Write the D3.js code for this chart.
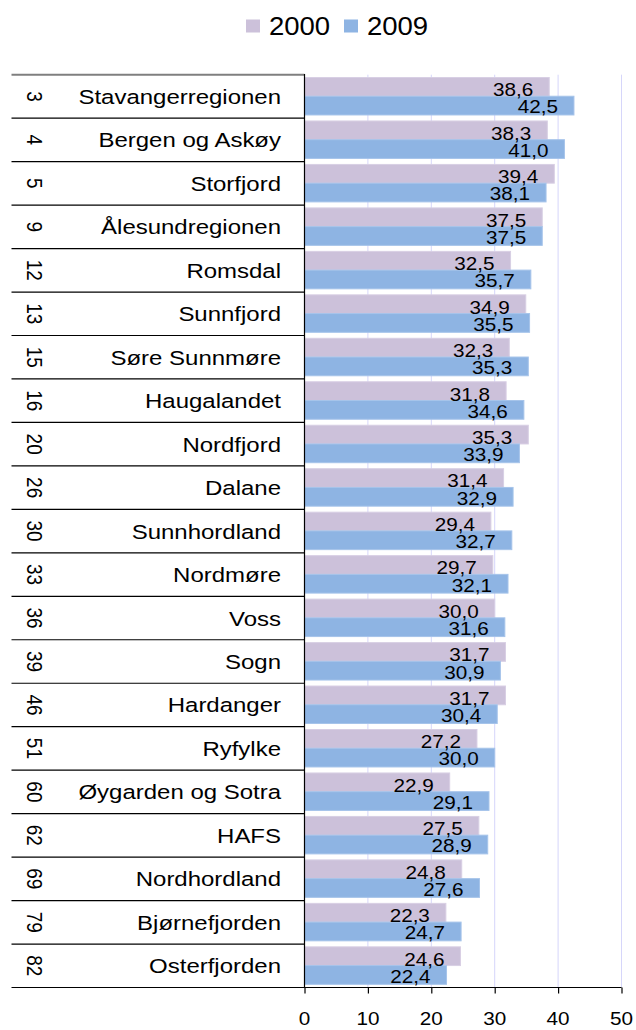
<!DOCTYPE html>
<html>
<head>
<meta charset="utf-8">
<script src="https://cdn.jsdelivr.net/npm/d3@7"></script>
<style>
  html, body { margin: 0; padding: 0; background: #fff; }
  svg { display: block; font-family: "Liberation Sans", Arial, sans-serif; }
</style>
</head>
<body>
<svg id="chart" width="636" height="1030"></svg>
<script>
// Regions, their rank and the share in 2000 and 2009
const ranks = [3, 4, 5, 9, 12, 13, 15, 16, 20, 26, 30, 33, 36, 39, 46, 51, 60, 62, 69, 79, 82];
const regions = ["Stavangerregionen", "Bergen og Askøy", "Storfjord", "Ålesundregionen", "Romsdal",
  "Sunnfjord", "Søre Sunnmøre", "Haugalandet", "Nordfjord", "Dalane", "Sunnhordland", "Nordmøre",
  "Voss", "Sogn", "Hardanger", "Ryfylke", "Øygarden og Sotra", "HAFS", "Nordhordland",
  "Bjørnefjorden", "Osterfjorden"];
const values2000 = [38.6, 38.3, 39.4, 37.5, 32.5, 34.9, 32.3, 31.8, 35.3, 31.4, 29.4, 29.7, 30.0,
  31.7, 31.7, 27.2, 22.9, 27.5, 24.8, 22.3, 24.6];
const values2009 = [42.5, 41.0, 38.1, 37.5, 35.7, 35.5, 35.3, 34.6, 33.9, 32.9, 32.7, 32.1, 31.6,
  30.9, 30.4, 30.0, 29.1, 28.9, 27.6, 24.7, 22.4];
const seriesNames = ["2000", "2009"];
const xTicks = [0, 10, 20, 30, 40, 50];

const colors = { "2000": "#CCC1DA", "2009": "#8EB4E3" };
const strokes = { "2000": "#D8CFE4", "2009": "#A6C4EA" };

const svg = d3.select("#chart");
const fmt = v => d3.format(".1f")(v).replace(".", ",");

const x = d3.scaleLinear().domain([0, 50]).range([304.5, 621.5]);
const y = d3.scaleBand().domain(regions).range([74.7, 987.5]).padding(0);
const yInner = d3.scaleBand().domain(seriesNames).range([2.8, y.bandwidth() - 3.2]).padding(0);

const rows = regions.map((r, i) => ({
  region: r, rank: ranks[i],
  vals: [{ s: "2000", v: values2000[i] }, { s: "2009", v: values2009[i] }]
}));

// horizontally widened text helper
function stext(g, tx, ty, str, size, anchor, sx) {
  return g.append("text")
    .attr("transform", `translate(${tx},${ty}) scale(${sx},1)`)
    .attr("text-anchor", anchor)
    .attr("font-size", size)
    .attr("fill", "#000")
    .text(str);
}

// gridlines
svg.append("g").selectAll("line")
  .data(xTicks.slice(1))
  .join("line")
  .attr("x1", d => x(d)).attr("x2", d => x(d))
  .attr("y1", 74.7).attr("y2", 987)
  .attr("stroke", "#D6D6FA").attr("stroke-width", 1);

// bars
const rowG = svg.append("g").selectAll("g")
  .data(rows)
  .join("g")
  .attr("transform", d => `translate(0,${y(d.region)})`);

rowG.selectAll("rect")
  .data(d => d.vals)
  .join("rect")
  .attr("x", x(0))
  .attr("y", d => yInner(d.s))
  .attr("width", d => x(d.v) - x(0))
  .attr("height", yInner.bandwidth())
  .attr("fill", d => colors[d.s])
  .attr("stroke", d => strokes[d.s])
  .attr("stroke-width", 1);

// value labels
rowG.each(function (d) {
  const g = d3.select(this);
  d.vals.forEach(v => {
    const by = yInner(v.s) + yInner.bandwidth();
    stext(g, x(v.v) - 16, by - (v.s === "2000" ? 0 : 1.5), fmt(v.v), 18, "end", 1.15);
  });
});

// left table: rank and region name
const table = svg.append("g");
rows.forEach(d => {
  const cy = y(d.region) + y.bandwidth() / 2;
  table.append("text")
    .attr("transform", `translate(26.5,${cy}) scale(1.15,1) rotate(90)`)
    .attr("text-anchor", "middle")
    .attr("font-size", 19)
    .attr("fill", "#000")
    .text(d.rank);
  stext(table, 281, cy + 7.5, d.region, 20.5, "end", 1.17);
});

// row separators
table.selectAll("line.sep")
  .data(regions.slice(1))
  .join("line")
  .attr("class", "sep")
  .attr("x1", 11.5).attr("x2", x(0))
  .attr("y1", d => y(d)).attr("y2", d => y(d))
  .attr("stroke", "#000").attr("stroke-width", 1.2);

// top border of the table
table.append("line")
  .attr("x1", 11.5).attr("x2", x(0))
  .attr("y1", 74.7).attr("y2", 74.7)
  .attr("stroke", "#7F7F7F").attr("stroke-width", 2);

// x axis at bottom, extending under the table
const axisY = 987.5;
svg.append("line")
  .attr("x1", 11.5).attr("x2", x(50))
  .attr("y1", axisY).attr("y2", axisY)
  .attr("stroke", "#000").attr("stroke-width", 1.2);

const xAxis = svg.append("g")
  .attr("transform", `translate(0,${axisY})`)
  .call(d3.axisBottom(x).tickValues(xTicks).tickSize(6).tickFormat(""));
xAxis.select(".domain").remove();
xAxis.selectAll(".tick line").attr("stroke", "#000").attr("stroke-width", 1.2);

xTicks.forEach(t => stext(svg, x(t), 1025, d3.format("d")(t), 18, "middle", 1.15));

// vertical axis line
svg.append("line")
  .attr("x1", x(0)).attr("x2", x(0))
  .attr("y1", 74).attr("y2", axisY)
  .attr("stroke", "#000").attr("stroke-width", 1.2);

// legend
const legend = svg.append("g");
const legendItems = [{ s: "2000", sx: 246, tx: 269 }, { s: "2009", sx: 344, tx: 367 }];
legendItems.forEach(it => {
  legend.append("rect")
    .attr("x", it.sx).attr("y", 19.5)
    .attr("width", 14).attr("height", 13)
    .attr("fill", colors[it.s]);
  stext(legend, it.tx, 35, it.s, 25, "start", 1.1);
});
</script>
</body>
</html>
